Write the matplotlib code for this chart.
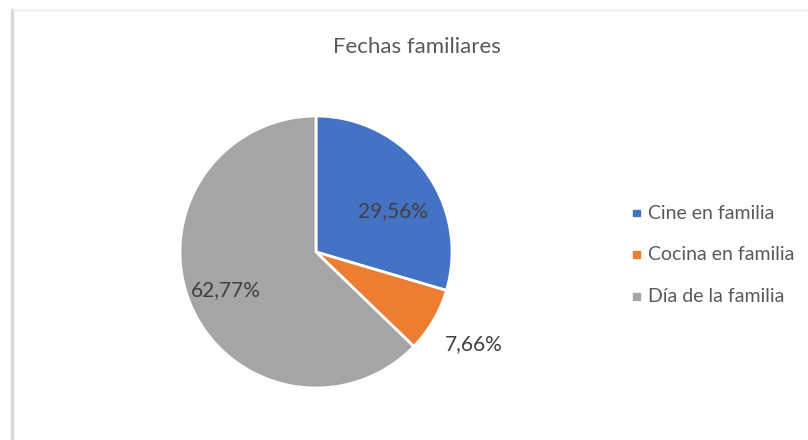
import numpy as np
import matplotlib.pyplot as plt
from matplotlib.lines import Line2D
from matplotlib.patches import Rectangle

categories = ['Cine en familia', 'Cocina en familia', 'Día de la familia']
values = [29.56, 7.66, 62.77]
colors = ['#4472C4', '#ED7D31', '#A5A5A5']
label_dist = [0.64, 1.34, 0.72]

plt.rcParams['font.family'] = ['Lato', 'DejaVu Sans']
txt = '#595959'

fig = plt.figure(figsize=(8.08, 4.40), dpi=100)

# chart frame (left + top edges visible)
fig.add_artist(Line2D([12/808, 12/808], [0, 1 - 10/440], color='#d9d9d9', lw=2.5))
fig.add_artist(Line2D([12/808, 1], [1 - 10/440, 1 - 10/440], color='#e6e6e6', lw=1))

fig.text(417/808, 1 - 47/440, 'Fechas familiares', ha='center', va='center',
         fontsize=16, color=txt)

cx, cy, r = 316, 252, 136
ax = fig.add_axes([(cx - r)/808, (440 - cy - r)/440, 2*r/808, 2*r/440])
wedges, _ = ax.pie(values, colors=colors, startangle=90, counterclock=False,
                   radius=1, wedgeprops=dict(edgecolor='white', linewidth=2))
ax.set_xlim(-1, 1)
ax.set_ylim(-1, 1)
ax.axis('off')

for w, v, d in zip(wedges, values, label_dist):
    ang = np.deg2rad((w.theta1 + w.theta2) / 2)
    if v == values[0]:
        ang -= np.deg2rad(9)
    ax.text(d*np.cos(ang), d*np.sin(ang), f'{v:.2f}%'.replace('.', ','),
            ha='center', va='center', fontsize=15, color='#404040')

# legend
for i, (c, lab) in enumerate(zip(colors, categories)):
    y = 1 - (213 + i*41.5)/440
    fig.add_artist(Rectangle((633/808, y - 3.5/440), 7/808, 7/440,
                             color=c, transform=fig.transFigure))
    fig.text(648/808, y, lab, ha='left', va='center', fontsize=14, color=txt)

fig.savefig('out.png', dpi=100)
